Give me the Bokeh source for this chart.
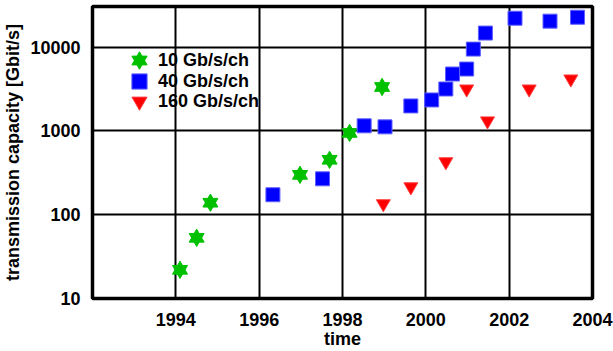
from bokeh.plotting import figure
from bokeh.models import FixedTicker, BasicTickFormatter, Legend, LegendItem, Range1d
from bokeh.embed import file_html
from bokeh.resources import INLINE

# Data
x10 = [1994.10, 1994.50, 1994.83, 1996.98, 1997.69, 1998.17, 1998.95]
y10 = [22, 53, 139, 299, 452, 946, 3340]

x40 = [1996.33, 1997.52, 1998.52, 1999.02, 1999.64, 2000.14, 2000.48, 2000.64,
       2000.98, 2001.14, 2001.43, 2002.14, 2002.98, 2003.64]
y40 = [173, 268, 1150, 1117, 1985, 2340, 3162, 4770, 5470, 9460, 14700, 22100,
       20400, 22700]

x160 = [1998.98, 1999.64, 2000.48, 2000.98, 2001.48, 2002.48, 2003.48]
y160 = [135, 215, 428, 3160, 1315, 3160, 4160]

x_ticks = [1994, 1996, 1998, 2000, 2002, 2004]
y_ticks = [10, 100, 1000, 10000]
labels = ["10 Gb/s/ch", "40 Gb/s/ch", "160 Gb/s/ch"]

FONT = "Liberation Sans"

p = figure(width=613, height=351, output_backend="svg", toolbar_location=None,
           y_axis_type="log",
           x_range=Range1d(1992, 2004), y_range=Range1d(10, 30500),
           min_border_left=89, min_border_right=21, min_border_top=6,
           min_border_bottom=52)

p.outline_line_color = "black"
p.outline_line_width = 3.5
p.outline_line_alpha = 1

for ax in (p.xaxis[0], p.yaxis[0]):
    ax.axis_line_color = None
    ax.major_tick_line_color = None
    ax.minor_tick_line_color = None
    ax.major_label_text_font = FONT
    ax.major_label_text_font_style = "bold"
    ax.major_label_text_font_size = "18px"
    ax.major_label_text_color = "black"
    ax.axis_label_text_font = FONT
    ax.axis_label_text_font_style = "bold"
    ax.axis_label_text_font_size = "18px"
    ax.axis_label_text_color = "black"

p.xaxis.ticker = FixedTicker(ticks=x_ticks)
p.yaxis.ticker = FixedTicker(ticks=y_ticks)
p.yaxis.formatter = BasicTickFormatter(use_scientific=False)
p.xaxis.axis_label = "time"
p.yaxis.axis_label = "transmission capacity [Gbit/s]"
p.xaxis.major_label_standoff = 8
p.yaxis.major_label_standoff = 6
p.xaxis.axis_label_standoff = 0
p.yaxis.axis_label_standoff = 4

p.xgrid.ticker = FixedTicker(ticks=x_ticks)
p.ygrid.ticker = FixedTicker(ticks=y_ticks)
for g in (p.xgrid[0], p.ygrid[0]):
    g.grid_line_color = "black"
    g.grid_line_alpha = 1
    g.grid_line_width = 2
    g.minor_grid_line_color = None

green = "#00c000"
s1 = p.scatter(x10, y10, marker="triangle", size=15, fill_color=green, line_color=green)
s2 = p.scatter(x10, y10, marker="inverted_triangle", size=15, fill_color=green, line_color=green)
r40 = p.scatter(x40, y40, marker="square", size=14, fill_color="#0000ff", line_color="#6060ff")
r160 = p.scatter(x160, y160, marker="inverted_triangle", size=14, fill_color="#ff0000", line_color="#ff4040")

entries = [(labels[0], [s1, s2], 219), (labels[1], [r40], 198), (labels[2], [r160], 178)]
for lab, rends, ybot in entries:
    lg = Legend(items=[LegendItem(label=lab, renderers=rends)], location=(28, ybot))
    lg.background_fill_alpha = 0
    lg.border_line_color = None
    lg.padding = 0
    lg.margin = 0
    lg.spacing = 0
    lg.glyph_width = 38
    lg.glyph_height = 38
    lg.label_height = 21
    lg.label_standoff = 0
    lg.label_text_font = FONT
    lg.label_text_font_style = "bold"
    lg.label_text_font_size = "18px"
    lg.label_text_color = "black"
    p.add_layout(lg)

open("out.html", "w").write(file_html(p, INLINE))
